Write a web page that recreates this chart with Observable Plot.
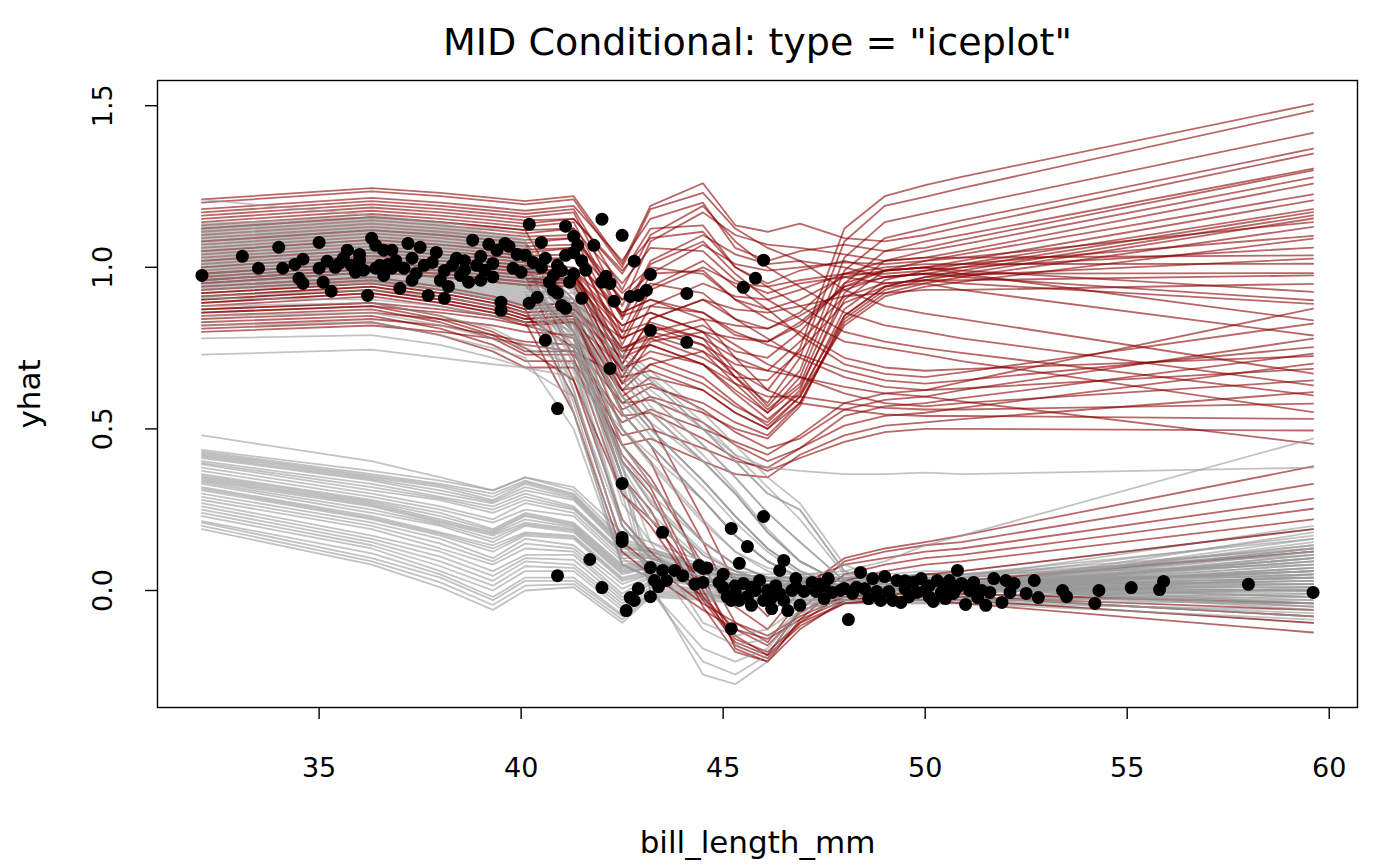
<!DOCTYPE html>
<html><head><meta charset="utf-8">
<script src="https://cdn.jsdelivr.net/npm/d3@7"></script>
<script src="https://cdn.jsdelivr.net/npm/@observablehq/plot@0.6"></script>
<style>body{margin:0;background:#fff}</style>
</head><body><div id="chart"></div>
<script>
// grid of bill_length_mm values at which each ICE curve is evaluated
const gridX = [32.1, 36.3, 38.0, 39.3, 40.1, 41.3, 42.5, 43.2, 44.5, 45.3, 46.1, 46.9, 48.0, 49.0, 50.0, 50.9, 59.6];

// grey curves, low group (observations predicted near 0)
const grayLowLines = [
[0.48,0.40,0.35,0.31,0.35,0.32,0.18,0.15,0.09,0.06,0.05,0.05,0.05,0.05,0.06,0.06,0.19],
[0.435,0.37,0.34,0.31,0.35,0.31,0.16,0.13,0.08,0.05,0.04,0.04,0.04,0.04,0.05,0.05,0.11],
[0.43,0.36,0.33,0.30,0.34,0.30,0.15,0.13,0.07,0.05,0.04,0.04,0.04,0.04,0.05,0.05,0.16],
[0.425,0.355,0.325,0.29,0.335,0.295,0.145,0.125,0.07,0.05,0.04,0.04,0.04,0.04,0.05,0.05,0.13],
[0.42,0.35,0.32,0.28,0.33,0.29,0.14,0.12,0.07,0.05,0.04,0.04,0.04,0.04,0.05,0.05,0.08],
[0.415,0.345,0.31,0.275,0.32,0.285,0.135,0.12,0.065,0.045,0.035,0.035,0.035,0.035,0.045,0.045,0.04],
[0.41,0.34,0.30,0.27,0.31,0.28,0.13,0.12,0.06,0.04,0.03,0.03,0.03,0.03,0.04,0.04,0.20],
[0.40,0.33,0.29,0.26,0.30,0.26,0.12,0.11,0.06,0.04,0.03,0.03,0.03,0.03,0.04,0.04,0.12],
[0.395,0.32,0.285,0.25,0.29,0.255,0.115,0.105,0.055,0.04,0.03,0.03,0.03,0.03,0.035,0.035,0.17],
[0.39,0.31,0.28,0.24,0.28,0.25,0.11,0.10,0.05,0.04,0.03,0.03,0.03,0.03,0.03,0.03,0.05],
[0.38,0.30,0.26,0.22,0.27,0.24,0.10,0.10,0.05,0.03,0.02,0.02,0.02,0.02,0.03,0.03,0.14],
[0.37,0.29,0.25,0.21,0.25,0.23,0.09,0.09,0.04,0.03,0.02,0.02,0.02,0.02,0.03,0.03,0.02],
[0.36,0.28,0.24,0.19,0.24,0.21,0.08,0.09,0.04,0.02,0.02,0.02,0.02,0.02,0.02,0.02,0.09],
[0.355,0.275,0.23,0.185,0.235,0.205,0.075,0.085,0.04,0.02,0.015,0.015,0.015,0.015,0.02,0.02,0.06],
[0.35,0.27,0.22,0.18,0.23,0.20,0.07,0.08,0.04,0.02,0.01,0.01,0.01,0.01,0.02,0.02,-0.02],
[0.345,0.265,0.215,0.175,0.22,0.195,0.065,0.075,0.035,0.02,0.01,0.01,0.01,0.01,0.02,0.02,0.13],
[0.34,0.26,0.21,0.17,0.21,0.19,0.06,0.07,0.03,0.02,0.01,0.01,0.01,0.01,0.02,0.02,0.10],
[0.335,0.25,0.205,0.16,0.205,0.185,0.055,0.07,0.03,0.015,0.01,0.01,0.01,0.01,0.015,0.015,-0.04],
[0.33,0.24,0.20,0.15,0.20,0.18,0.05,0.07,0.03,0.01,0.01,0.01,0.01,0.01,0.01,0.01,0.06],
[0.32,0.23,0.18,0.14,0.18,0.17,0.04,0.06,0.02,0.01,0.00,0.00,0.00,0.00,0.01,0.01,0.03],
[0.315,0.225,0.175,0.13,0.175,0.165,0.035,0.055,0.02,0.005,0.00,0.00,0.00,0.00,0.005,0.005,0.11],
[0.31,0.22,0.17,0.12,0.17,0.16,0.03,0.05,0.02,0.00,0.00,0.00,0.00,0.00,0.00,0.00,0.00],
[0.30,0.21,0.16,0.10,0.16,0.14,0.02,0.05,0.02,0.00,0.00,0.00,0.00,0.00,0.00,0.00,0.07],
[0.29,0.20,0.145,0.09,0.145,0.13,0.005,0.045,0.015,-0.005,-0.005,-0.005,-0.005,-0.005,-0.005,-0.005,0.02],
[0.28,0.19,0.13,0.08,0.13,0.12,-0.01,0.04,0.01,-0.01,-0.01,-0.01,-0.01,-0.01,-0.01,-0.01,-0.05],
[0.27,0.17,0.12,0.06,0.11,0.11,-0.02,0.03,0.00,-0.01,-0.01,-0.01,-0.01,-0.01,-0.01,-0.01,0.04],
[0.26,0.16,0.105,0.045,0.10,0.095,-0.03,0.025,-0.005,-0.015,-0.015,-0.015,-0.015,-0.015,-0.015,-0.015,0.00],
[0.25,0.15,0.09,0.03,0.09,0.08,-0.04,0.02,-0.01,-0.02,-0.02,-0.02,-0.02,-0.02,-0.02,-0.02,-0.08],
[0.24,0.14,0.075,0.015,0.075,0.07,-0.05,0.01,-0.01,-0.025,-0.025,-0.025,-0.025,-0.025,-0.025,-0.025,-0.03],
[0.23,0.13,0.06,0.00,0.06,0.06,-0.06,0.00,-0.01,-0.03,-0.03,-0.03,-0.03,-0.03,-0.03,-0.03,0.01],
[0.215,0.115,0.05,-0.02,0.04,0.04,-0.075,-0.005,-0.015,-0.03,-0.03,-0.03,-0.03,-0.03,-0.03,-0.03,-0.01],
[0.21,0.10,0.04,-0.03,0.03,0.03,-0.08,-0.01,-0.02,-0.03,-0.03,-0.03,-0.03,-0.03,-0.03,-0.03,-0.10],
[0.20,0.09,0.025,-0.045,0.015,0.02,-0.09,-0.015,-0.025,-0.035,-0.035,-0.035,-0.035,-0.035,-0.035,-0.035,0.05],
[0.19,0.08,0.01,-0.06,0.00,0.01,-0.10,-0.02,-0.03,-0.04,-0.04,-0.04,-0.04,-0.04,-0.04,-0.04,-0.06]
];

// grey curves, high group (observations predicted near 1 that fall to 0)
const grayHighLines = [
[1.21,1.16,1.14,1.12,1.10,0.95,0.72,0.65,0.50,0.40,0.30,0.25,0.06,0.02,0.02,0.02,0.12],
[1.135,1.155,1.135,1.105,1.085,0.72,0.22,0.11,0.04,0.02,0.01,0.01,0.00,0.00,0.01,0.01,0.06],
[1.13,1.15,1.13,1.10,1.08,0.80,0.35,0.22,0.08,0.04,0.02,0.01,0.00,0.00,0.01,0.01,0.05],
[1.125,1.145,1.125,1.095,1.075,0.93,0.68,0.57,0.42,0.31,0.19,0.09,0.02,0.01,0.01,0.01,0.10],
[1.12,1.14,1.12,1.09,1.07,0.88,0.55,0.45,0.28,0.17,0.09,0.04,0.01,0.00,0.01,0.01,-0.03],
[1.115,1.135,1.115,1.085,1.065,0.87,0.50,0.39,0.21,0.12,0.06,0.03,0.01,0.00,0.01,0.01,0.07],
[1.11,1.13,1.11,1.08,1.06,0.70,0.20,0.10,0.04,0.02,0.01,0.01,0.00,0.00,0.01,0.01,0.10],
[1.105,1.125,1.105,1.075,1.055,0.90,0.60,0.50,0.34,0.23,0.13,0.06,0.01,0.00,0.01,0.01,0.03],
[1.10,1.12,1.10,1.07,1.05,0.85,0.45,0.33,0.15,0.08,0.04,0.02,0.00,0.00,0.01,0.01,0.02],
[1.095,1.115,1.095,1.065,1.045,0.96,0.75,0.68,0.55,0.45,0.35,0.27,0.08,0.03,0.02,0.02,0.13],
[1.09,1.11,1.09,1.06,1.04,0.92,0.65,0.55,0.40,0.30,0.18,0.09,0.02,0.01,0.01,0.01,0.15],
[1.085,1.105,1.085,1.055,1.035,0.62,0.14,0.07,0.03,0.015,0.005,0.00,0.00,0.00,0.01,0.01,0.09],
[1.08,1.10,1.08,1.05,1.03,0.55,0.08,0.04,0.02,0.01,0.00,0.00,0.00,0.00,0.01,0.01,-0.06],
[1.075,1.095,1.075,1.045,1.025,0.80,0.35,0.00,-0.22,-0.26,-0.20,-0.06,-0.03,-0.03,-0.03,-0.03,-0.04],
[1.07,1.09,1.07,1.04,1.02,0.80,0.35,0.22,0.08,0.04,0.02,0.01,0.00,0.00,0.01,0.01,0.08],
[1.065,1.085,1.065,1.035,1.015,0.83,0.40,0.27,0.11,0.06,0.03,0.015,0.00,0.00,0.01,0.01,-0.05],
[1.06,1.08,1.06,1.03,1.01,0.82,0.40,0.02,-0.26,-0.29,-0.22,-0.07,-0.04,-0.04,-0.04,-0.04,-0.09],
[1.055,1.075,1.055,1.025,1.005,0.93,0.69,0.60,0.45,0.35,0.24,0.15,0.03,0.01,0.01,0.01,0.16],
[1.05,1.07,1.05,1.02,1.00,0.88,0.55,0.45,0.28,0.17,0.09,0.04,0.01,0.00,0.01,0.01,0.04],
[1.045,1.065,1.045,1.015,0.995,0.96,0.74,0.66,0.52,0.42,0.32,0.22,0.05,0.02,0.02,0.02,0.14],
[1.04,1.06,1.04,1.01,0.99,0.85,0.45,0.33,0.15,0.08,0.04,0.02,0.00,0.00,0.01,0.01,-0.01],
[1.035,1.055,1.035,1.005,0.985,0.75,0.27,0.15,0.06,0.03,0.01,0.01,0.00,0.00,0.01,0.01,-0.02],
[1.03,1.05,1.03,1.00,0.98,0.70,0.20,0.10,0.04,0.02,0.01,0.01,0.00,0.00,0.01,0.01,0.13],
[1.025,1.045,1.025,0.995,0.975,0.80,0.38,0.15,-0.10,-0.14,-0.12,-0.05,-0.02,-0.02,-0.02,-0.02,-0.08],
[1.02,1.04,1.02,0.99,0.97,0.95,0.72,0.65,0.50,0.40,0.30,0.25,0.06,0.02,0.02,0.02,0.06],
[1.015,1.035,1.015,0.985,0.965,0.58,0.10,0.05,0.02,0.01,0.00,0.00,0.00,0.00,0.01,0.01,0.00],
[1.01,1.03,1.01,0.98,0.96,0.80,0.35,0.22,0.08,0.04,0.02,0.01,0.00,0.00,0.01,0.01,0.00],
[1.005,1.025,1.005,0.975,0.955,0.90,0.60,0.50,0.34,0.23,0.13,0.06,0.01,0.00,0.01,0.01,0.08],
[1.00,1.02,1.00,0.97,0.95,0.78,0.30,0.00,-0.18,-0.22,-0.18,-0.06,-0.03,-0.03,-0.03,-0.03,-0.07],
[0.995,1.015,0.995,0.965,0.945,0.62,0.14,0.07,0.03,0.015,0.005,0.00,0.00,0.00,0.01,0.01,0.01],
[0.99,1.01,0.99,0.96,0.94,0.90,0.65,0.55,0.40,0.30,0.18,0.09,0.02,0.01,0.01,0.01,0.18],
[0.985,1.005,0.985,0.955,0.935,0.89,0.60,0.50,0.34,0.23,0.13,0.06,0.01,0.00,0.01,0.01,0.12],
[0.98,1.00,0.98,0.95,0.93,0.55,0.08,0.04,0.02,0.01,0.00,0.00,0.00,0.00,0.01,0.01,0.03],
[0.975,0.995,0.975,0.945,0.925,0.92,0.69,0.60,0.45,0.35,0.24,0.15,0.03,0.01,0.01,0.01,0.10],
[0.97,0.99,0.97,0.94,0.92,0.83,0.45,0.33,0.15,0.08,0.04,0.02,0.00,0.00,0.01,0.01,0.09],
[0.965,0.985,0.965,0.935,0.915,0.79,0.38,0.24,0.09,0.05,0.02,0.01,0.00,0.00,0.01,0.01,0.06],
[0.96,0.98,0.96,0.93,0.91,0.90,0.70,0.62,0.50,0.42,0.38,0.37,0.36,0.36,0.365,0.36,0.38],
[0.955,0.975,0.955,0.925,0.905,0.82,0.40,0.27,0.11,0.06,0.03,0.015,0.00,0.00,0.01,0.01,0.04],
[0.95,0.97,0.95,0.92,0.90,0.86,0.55,0.45,0.28,0.17,0.09,0.04,0.01,0.00,0.01,0.01,-0.04],
[0.945,0.965,0.945,0.915,0.895,0.76,0.32,0.10,-0.12,-0.17,-0.15,-0.06,-0.03,-0.03,-0.03,-0.03,-0.02],
[0.94,0.96,0.94,0.91,0.89,0.68,0.20,0.10,0.04,0.02,0.01,0.01,0.00,0.00,0.01,0.01,0.11],
[0.935,0.955,0.935,0.905,0.885,0.85,0.58,0.48,0.32,0.21,0.12,0.05,0.01,0.00,0.01,0.01,0.00],
[0.93,0.95,0.93,0.90,0.88,0.78,0.35,0.22,0.08,0.04,0.02,0.01,0.00,0.00,0.01,0.01,0.05],
[0.91,0.93,0.91,0.88,0.86,0.80,0.50,0.40,0.22,0.12,0.07,0.05,0.06,0.09,0.14,0.17,0.47],
[0.905,0.90,0.88,0.85,0.83,0.75,0.40,0.28,0.12,0.06,0.03,0.01,0.00,0.00,0.01,0.01,0.04],
[0.88,0.89,0.85,0.81,0.76,0.74,0.60,0.52,0.40,0.30,0.18,0.09,0.02,0.01,0.01,0.01,0.01],
[0.85,0.86,0.82,0.78,0.75,0.70,0.42,0.30,0.15,0.08,0.04,0.02,0.00,0.00,0.01,0.01,-0.02],
[0.82,0.83,0.79,0.75,0.72,0.50,0.08,0.04,0.02,0.01,0.00,0.00,0.00,0.00,0.01,0.01,0.07],
[0.78,0.79,0.76,0.72,0.69,0.66,0.50,0.42,0.28,0.17,0.09,0.04,0.01,0.00,0.01,0.01,0.02],
[0.73,0.745,0.72,0.70,0.69,0.60,0.20,0.10,0.04,0.02,0.01,0.01,0.00,0.00,0.01,0.01,-0.05]
];

// dark red curves
const redLines = [
[1.21,1.245,1.23,1.215,1.205,1.22,1.01,1.19,1.26,1.13,1.11,1.135,1.09,1.08,1.10,1.125,1.352],
[0.98,1.015,1.00,0.985,0.975,0.99,0.86,0.90,0.84,0.72,0.62,0.75,1.12,1.22,1.254,1.28,1.505],
[1.20,1.235,1.22,1.205,1.195,1.21,1.00,1.18,1.23,1.12,1.06,1.02,0.93,0.88,0.857,0.84,0.671],
[0.85,0.87,0.83,0.78,0.73,0.73,0.52,0.56,0.50,0.46,0.42,0.48,0.58,0.61,0.62,0.645,0.872],
[1.12,1.155,1.14,1.125,1.115,0.85,0.55,0.45,0.15,-0.05,-0.12,0.00,0.10,0.13,0.15,0.17,0.384],
[1.18,1.215,1.20,1.185,1.175,1.19,1.02,1.15,1.20,1.06,1.02,1.05,1.07,1.05,1.06,1.085,1.30],
[0.97,1.005,0.99,0.975,0.965,0.98,0.74,0.80,0.76,0.66,0.58,0.72,1.08,1.19,1.218,1.245,1.484],
[1.17,1.205,1.19,1.175,1.165,1.18,0.93,1.10,1.19,1.08,1.00,0.94,0.86,0.82,0.80,0.78,0.635],
[0.84,0.86,0.84,0.82,0.80,0.79,0.62,0.64,0.56,0.49,0.44,0.47,0.56,0.59,0.60,0.62,0.779],
[1.08,1.115,1.10,1.085,1.075,0.80,0.45,0.35,0.08,-0.10,-0.16,-0.03,0.09,0.12,0.14,0.15,0.33],
[1.16,1.195,1.18,1.165,1.155,1.17,0.88,1.08,1.17,1.10,1.07,1.06,1.04,1.02,1.03,1.05,1.259],
[0.96,0.995,0.98,0.965,0.955,0.97,0.82,0.86,0.80,0.68,0.57,0.68,1.03,1.14,1.167,1.19,1.416],
[1.14,1.175,1.16,1.145,1.135,1.15,0.99,1.09,1.11,1.00,0.94,0.88,0.80,0.77,0.75,0.735,0.604],
[0.83,0.85,0.81,0.76,0.71,0.71,0.48,0.50,0.44,0.40,0.38,0.44,0.54,0.57,0.58,0.595,0.733],
[1.05,1.085,1.07,1.055,1.045,0.90,0.62,0.52,0.22,0.02,-0.08,0.02,0.08,0.10,0.12,0.13,0.284],
[1.15,1.185,1.17,1.155,1.145,1.15,0.98,1.12,1.13,1.00,0.95,0.99,1.02,0.99,1.00,1.02,1.207],
[0.95,0.985,0.97,0.955,0.945,0.96,0.68,0.74,0.70,0.62,0.55,0.66,0.99,1.09,1.12,1.145,1.367],
[1.11,1.145,1.13,1.115,1.105,1.12,0.84,1.01,1.08,0.98,0.90,0.84,0.77,0.75,0.73,0.71,0.552],
[0.82,0.84,0.82,0.79,0.77,0.76,0.58,0.59,0.52,0.45,0.40,0.44,0.51,0.54,0.55,0.565,0.702],
[1.02,1.055,1.04,1.025,1.015,0.72,0.30,0.22,0.02,-0.14,-0.20,-0.06,0.05,0.08,0.10,0.11,0.253],
[1.13,1.165,1.15,1.135,1.125,1.14,0.85,1.02,1.10,1.04,1.01,1.02,1.00,0.97,0.98,1.00,1.171],
[0.94,0.97,0.94,0.91,0.88,0.89,0.78,0.82,0.78,0.66,0.56,0.64,0.95,1.05,1.08,1.10,1.305],
[1.08,1.115,1.10,1.085,1.075,1.09,0.90,0.98,0.99,0.90,0.84,0.80,0.72,0.69,0.68,0.685,0.725],
[0.81,0.83,0.79,0.74,0.69,0.69,0.45,0.47,0.40,0.36,0.35,0.42,0.48,0.51,0.52,0.53,0.614],
[1.00,1.035,1.02,1.005,0.995,0.85,0.50,0.40,0.05,-0.18,-0.22,-0.09,0.03,0.06,0.08,0.09,0.22],
[1.12,1.155,1.14,1.125,1.115,1.12,0.95,1.06,1.05,0.96,0.92,0.95,0.97,0.95,0.96,0.98,1.151],
[0.93,0.96,0.93,0.90,0.87,0.88,0.64,0.70,0.64,0.57,0.52,0.62,0.92,1.02,1.05,1.07,1.278],
[1.05,1.085,1.07,1.055,1.045,1.06,0.78,0.94,1.02,0.94,0.87,0.79,0.70,0.67,0.66,0.675,0.826],
[0.80,0.82,0.80,0.78,0.76,0.74,0.54,0.55,0.47,0.41,0.37,0.41,0.46,0.49,0.50,0.50,0.495],
[0.98,1.015,1.00,0.985,0.975,0.65,0.22,0.12,-0.02,-0.12,-0.17,-0.07,0.01,0.03,0.05,0.06,0.19],
[1.10,1.135,1.12,1.105,1.095,1.10,0.80,0.98,1.07,1.01,0.99,1.00,1.015,1.01,1.02,1.03,1.14],
[0.92,0.95,0.92,0.89,0.86,0.87,0.75,0.79,0.74,0.64,0.55,0.63,0.90,0.99,1.02,1.04,1.226],
[1.02,1.055,1.04,1.025,1.015,1.03,0.85,0.88,0.86,0.80,0.76,0.73,0.68,0.65,0.64,0.65,0.753],
[0.95,0.985,0.97,0.955,0.945,0.80,0.42,0.32,0.00,-0.17,-0.21,-0.10,-0.01,0.01,0.02,0.03,0.12],
[1.09,1.125,1.11,1.095,1.085,1.09,0.92,1.00,0.98,0.90,0.87,0.90,0.97,0.99,1.00,1.01,1.097],
[0.91,0.94,0.91,0.88,0.85,0.86,0.60,0.66,0.62,0.55,0.50,0.60,0.87,0.96,0.99,1.01,1.18],
[0.98,1.015,1.00,0.985,0.975,0.99,0.70,0.84,0.90,0.84,0.78,0.72,0.66,0.63,0.62,0.625,0.686],
[0.93,0.96,0.93,0.90,0.87,0.60,0.15,0.08,-0.04,-0.10,-0.14,-0.08,-0.02,-0.01,-0.01,-0.01,-0.04],
[1.07,1.105,1.09,1.075,1.065,1.07,0.76,0.93,1.00,0.95,0.94,0.96,0.98,0.98,0.99,1.00,1.061],
[0.90,0.93,0.90,0.87,0.84,0.85,0.72,0.76,0.70,0.61,0.53,0.61,0.85,0.94,0.97,0.99,1.161],
[0.96,0.995,0.98,0.965,0.955,0.97,0.80,0.83,0.78,0.72,0.68,0.66,0.63,0.61,0.60,0.585,0.454],
[0.91,0.94,0.91,0.88,0.85,0.75,0.35,0.25,-0.05,-0.19,-0.22,-0.12,-0.03,-0.02,-0.02,-0.02,-0.06],
[1.06,1.095,1.08,1.065,1.055,1.06,0.90,0.95,0.92,0.84,0.81,0.86,0.98,1.02,1.03,1.03,1.037],
[0.89,0.92,0.89,0.86,0.83,0.84,0.58,0.63,0.58,0.52,0.48,0.58,0.83,0.92,0.95,0.97,1.125],
[0.94,0.97,0.94,0.91,0.88,0.89,0.68,0.78,0.82,0.76,0.70,0.66,0.61,0.58,0.57,0.58,0.65],
[0.89,0.92,0.89,0.86,0.83,0.55,0.12,0.05,-0.06,-0.12,-0.15,-0.09,-0.03,-0.02,-0.02,-0.02,-0.08],
[1.04,1.075,1.06,1.045,1.035,1.04,0.72,0.88,0.95,0.91,0.90,0.93,0.98,1.00,1.01,1.01,1.011],
[0.88,0.91,0.88,0.85,0.82,0.83,0.69,0.72,0.66,0.58,0.51,0.60,0.82,0.91,0.94,0.955,1.089],
[0.92,0.95,0.92,0.89,0.86,0.87,0.74,0.76,0.70,0.64,0.60,0.60,0.58,0.565,0.56,0.56,0.578],
[0.87,0.89,0.85,0.80,0.75,0.65,0.30,0.20,-0.03,-0.16,-0.20,-0.11,-0.04,-0.03,-0.03,-0.03,-0.10],
[1.03,1.065,1.05,1.035,1.025,1.03,0.86,0.90,0.86,0.79,0.77,0.83,0.94,0.97,0.98,0.98,0.982],
[0.87,0.89,0.87,0.85,0.83,0.83,0.56,0.60,0.55,0.50,0.47,0.57,0.85,0.94,0.97,0.975,1.027],
[0.90,0.93,0.90,0.87,0.84,0.85,0.62,0.70,0.74,0.68,0.62,0.58,0.56,0.545,0.54,0.54,0.531],
[0.86,0.88,0.86,0.84,0.82,0.78,0.40,0.30,-0.02,-0.15,-0.19,-0.10,-0.04,-0.03,-0.03,-0.04,-0.13],
[1.01,1.045,1.03,1.015,1.005,1.00,0.70,0.84,0.90,0.87,0.86,0.88,0.91,0.92,0.93,0.93,0.949],
[0.86,0.88,0.84,0.79,0.74,0.74,0.66,0.68,0.62,0.55,0.50,0.58,0.84,0.93,0.96,0.96,0.975],
[1.00,1.035,1.02,1.005,0.995,0.99,0.82,0.86,0.80,0.74,0.72,0.80,0.95,0.99,1.00,0.99,0.924],
[0.99,1.025,1.01,0.995,0.985,0.98,0.66,0.80,0.84,0.82,0.81,0.85,0.93,0.97,0.98,0.97,0.898],
[0.97,1.005,0.99,0.975,0.965,0.96,0.78,0.82,0.76,0.70,0.68,0.77,0.91,0.95,0.96,0.95,0.887],
[0.96,0.995,0.98,0.965,0.955,0.95,0.64,0.77,0.80,0.78,0.77,0.82,0.94,0.99,1.00,0.98,0.836],
[0.95,0.985,0.97,0.955,0.945,0.94,0.75,0.78,0.72,0.66,0.65,0.74,0.89,0.94,0.95,0.93,0.789]
];

// observed points: [bill_length_mm, yhat]
const observations = [
[32.1,0.975],[33.1,1.034],[33.5,0.997],[34.0,1.062],[34.1,0.997],[34.4,1.009],[34.5,0.966],[34.6,1.025],[34.6,0.950],
[35.0,1.077],[35.0,0.997],[35.1,0.954],[35.2,1.019],[35.3,0.926],[35.4,1.000],[35.5,1.012],[35.6,1.028],[35.7,1.053],[35.8,1.006],[35.9,0.985],
[36.0,1.022],[36.0,1.040],[36.1,0.991],[36.2,0.913],[36.3,1.090],[36.4,1.068],[36.4,0.997],[36.5,1.006],[36.6,1.053],[36.6,0.975],[36.7,1.009],
[36.8,0.997],[36.8,1.053],[36.9,1.020],[37.0,0.935],[37.1,0.997],[37.2,1.074],[37.3,1.028],[37.3,0.960],[37.4,0.981],[37.5,1.062],[37.6,1.006],
[37.7,0.913],[37.8,1.015],[37.9,1.046],[38.0,0.960],[38.1,0.904],[38.1,0.990],[38.2,0.941],[38.3,1.006],[38.4,1.028],[38.5,0.975],[38.6,0.991],
[38.6,1.020],[38.7,0.954],[38.8,1.084],[38.9,1.006],[39.0,1.034],[39.0,0.960],[39.1,0.991],[39.2,1.071],[39.3,1.012],[39.3,0.970],[39.4,1.053],
[39.5,0.867],[39.5,0.892],[39.6,1.074],[39.7,1.065],[39.8,0.997],[39.9,1.040],[40.0,0.985],[40.1,1.037],[40.2,1.133],[40.2,0.889],[40.3,1.015],
[40.4,0.907],[40.5,1.077],[40.5,1.000],[40.6,0.774],[40.6,1.028],[40.7,0.954],[40.8,0.929],[40.8,0.975],[40.9,0.563],[40.9,1.006],[40.9,0.920],
[41.0,0.882],[41.0,0.990],[41.1,1.127],[41.1,1.037],[41.1,0.873],[41.2,0.954],[41.3,1.046],[41.3,1.096],[41.3,0.980],[41.4,1.068],[41.5,0.904],
[41.5,1.020],[41.6,0.991],[41.8,1.068],[42.0,1.149],[42.0,0.954],[42.1,0.972],[42.2,0.950],[42.2,0.687],[42.3,0.895],[42.5,1.099],[42.7,0.910],
[42.8,1.019],[42.9,0.913],[43.1,0.929],[43.2,0.978],[43.2,0.805],[44.1,0.919],[44.1,0.768],[45.5,0.938],[45.8,0.966],[46.0,1.022],
[40.9,0.046],[41.7,0.096],[42.0,0.009],[42.5,0.331],[42.5,0.164],[42.5,0.152],[42.6,-0.062],[42.7,-0.022],[42.8,-0.031],[42.9,0.006],
[43.2,0.071],[43.2,-0.019],[43.3,0.031],[43.4,0.012],[43.5,0.180],[43.5,0.062],[43.6,0.031],[43.8,0.062],[44.0,0.046],[44.3,0.020],[44.4,0.077],
[44.5,0.068],[44.5,0.025],[44.6,0.070],[44.9,0.025],[45.0,0.009],[45.0,0.050],[45.1,-0.019],[45.2,-0.031],[45.2,-0.118],[45.2,0.192],[45.3,0.015],
[45.3,-0.006],[45.4,0.084],[45.4,-0.031],[45.5,0.022],[45.6,0.136],[45.6,-0.019],[45.7,-0.046],[45.7,0.010],[45.8,0.000],[45.9,0.031],[46.0,0.229],
[46.0,-0.031],[46.1,0.000],[46.2,-0.056],[46.2,-0.022],[46.3,0.015],[46.4,0.062],[46.4,-0.010],[46.5,-0.031],[46.5,0.093],[46.6,-0.062],[46.7,0.000],
[46.8,0.037],[46.8,0.010],[46.9,-0.046],[47.0,-0.003],[47.2,0.025],[47.3,-0.003],[47.4,0.020],[47.5,0.015],[47.5,-0.025],[47.6,0.037],[47.7,-0.006],
[47.9,0.000],[48.0,0.006],[48.1,-0.090],[48.2,-0.009],[48.3,0.010],[48.4,0.056],[48.5,0.006],[48.6,-0.025],[48.7,0.037],[48.8,-0.003],[48.9,-0.031],
[49.0,0.043],[49.1,-0.003],[49.2,-0.031],[49.3,0.031],[49.4,-0.037],[49.5,0.006],[49.5,0.030],[49.6,-0.019],[49.7,0.025],[49.8,-0.006],[49.9,0.037],
[50.0,0.000],[50.1,0.015],[50.1,-0.020],[50.2,-0.034],[50.3,0.031],[50.4,-0.006],[50.5,0.015],[50.5,-0.025],[50.6,0.031],[50.7,-0.009],[50.8,0.062],
[50.8,0.010],[50.9,0.022],[51.0,-0.043],[51.1,0.000],[51.2,0.025],[51.3,-0.022],[51.4,0.000],[51.5,-0.046],[51.6,-0.006],[51.7,0.037],[51.9,-0.037],
[52.0,0.031],[52.1,-0.006],[52.2,0.022],[52.5,-0.009],[52.7,0.031],[52.8,-0.022],[53.4,0.000],[53.5,-0.019],[54.2,-0.040],[54.3,0.000],[55.1,0.009],
[55.8,0.003],[55.9,0.028],[58.0,0.019],[59.6,-0.006]
];

const xTicks = [35, 40, 45, 50, 55, 60];
const yTicks = [0, 0.5, 1.0, 1.5];
const yTickLabels = ["0.0", "0.5", "1.0", "1.5"];
const titleText = 'MID Conditional: type = "iceplot"';
const xLabel = "bill_length_mm";
const yLabel = "yhat";

// interleave grey and red curves for drawing order
const grays = grayLowLines.concat(grayHighLines);
const series = [];
const n = Math.max(grays.length, redLines.length);
for (let i = 0; i < n; i++) {
  if (i < grays.length) series.push({vals: grays[i], c: "#9a9a9a"});
  if (i < redLines.length) series.push({vals: redLines[i], c: "#8b0000"});
}
const rows = series.flatMap((s, k) => s.vals.map((v, j) => ({x: gridX[j], y: v, id: k, c: s.c})));

const txt = {fill: "black", textAnchor: "middle", lineAnchor: "middle"};

const chart = Plot.plot({
  width: 1400, height: 865,
  marginLeft: 157, marginRight: 43, marginTop: 80, marginBottom: 158,
  x: {domain: [31.0, 60.7]},
  y: {domain: [-0.362, 1.578]},
  color: {type: "identity"},
  style: {fontFamily: "DejaVu Sans", background: "white", color: "black"},
  marks: [
    Plot.line(rows, {x: "x", y: "y", z: "id", stroke: "c", strokeOpacity: 0.6, strokeWidth: 1.8}),
    Plot.dot(observations, {x: d => d[0], y: d => d[1], r: 6.5, fill: "black"}),
    Plot.frame({stroke: "black", strokeWidth: 1.4}),
    Plot.axisX({ticks: xTicks, tickSize: 12, tickFormat: () => "", label: null, strokeWidth: 1.4}),
    Plot.axisY({ticks: yTicks, tickSize: 12, tickFormat: () => "", label: null, strokeWidth: 1.4}),
    Plot.text(xTicks, {...txt, x: d => d, text: d => String(d), frameAnchor: "bottom", dy: 61, fontSize: 27}),
    Plot.text(yTicks, {...txt, y: d => d, text: (d, i) => yTickLabels[i], frameAnchor: "left", dx: -54, rotate: -90, fontSize: 27}),
    Plot.text([titleText], {...txt, frameAnchor: "top", dy: -38, fontSize: 38}),
    Plot.text([xLabel], {...txt, frameAnchor: "bottom", dy: 136, fontSize: 31}),
    Plot.text([yLabel], {...txt, frameAnchor: "left", dx: -127, rotate: -90, fontSize: 31})
  ]
});
document.getElementById("chart").appendChild(chart);
</script>
</body></html>
